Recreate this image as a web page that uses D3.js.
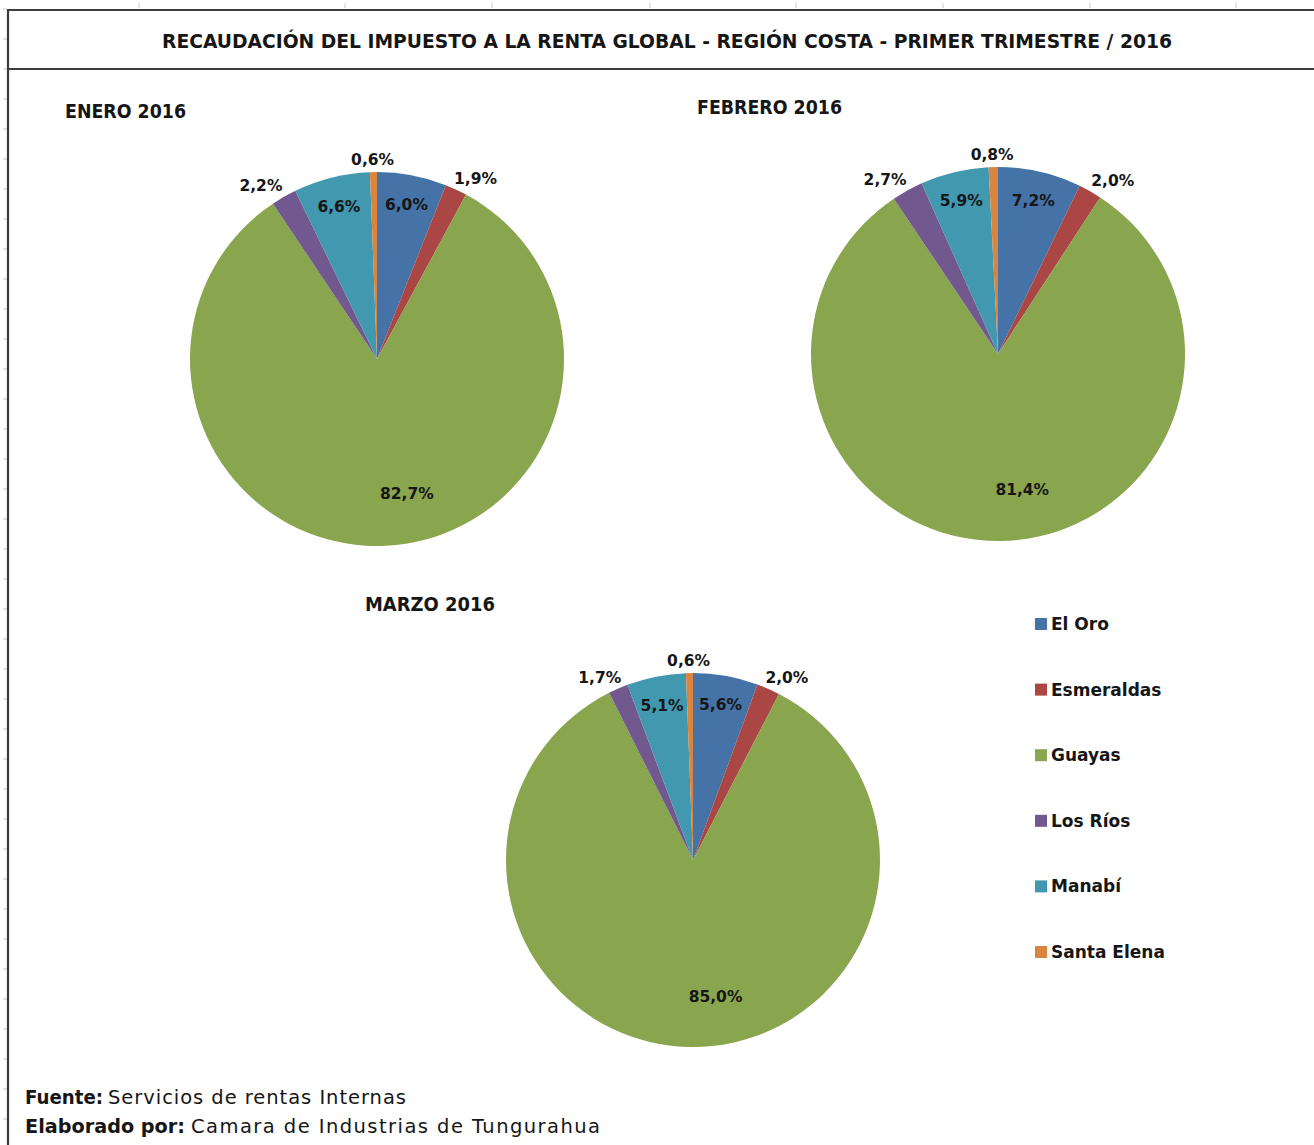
<!DOCTYPE html>
<html>
<head>
<meta charset="utf-8">
<script src="https://cdn.jsdelivr.net/npm/d3@7"></script>
<style>
  body { margin: 0; background: #fff; }
  text { font-family: 'DejaVu Sans', sans-serif; fill: #161616; }
</style>
</head>
<body>
<div id="chart"></div>
<script>
// data
const regions = ['El Oro', 'Esmeraldas', 'Guayas', 'Los Ríos', 'Manabí', 'Santa Elena'];
const enero = [6.0, 1.9, 82.7, 2.2, 6.6, 0.6];
const febrero = [7.2, 2.0, 81.4, 2.7, 5.9, 0.8];
const marzo = [5.6, 2.0, 85.0, 1.7, 5.1, 0.6];
const monthTitles = ['ENERO 2016', 'FEBRERO  2016', 'MARZO 2016'];
const colors = ['#4572A7', '#AA4643', '#89A54E', '#71588F', '#4198AF', '#DB843D'];

const title = 'RECAUDACIÓN DEL IMPUESTO A LA RENTA GLOBAL - REGIÓN COSTA -  PRIMER TRIMESTRE / 2016';

const width = 1314;
const height = 1145;
const radius = 187;

const pies = [
  { values: enero, cx: 377, cy: 359, title: monthTitles[0], tx: 65, ty: 118, tw: 121 },
  { values: febrero, cx: 998, cy: 354, title: monthTitles[1], tx: 697, ty: 114, tw: 145 },
  { values: marzo, cx: 693, cy: 860, title: monthTitles[2], tx: 365, ty: 611, tw: 130 }
];

const fmt = (v) => d3.format('.1f')(v).replace('.', ',') + '%';

const svg = d3.select('#chart').append('svg')
  .attr('width', width)
  .attr('height', height);

// spreadsheet frame
const frame = svg.append('g');
d3.range(9, height, 30).forEach((y) => {
  frame.append('line')
    .attr('x1', 3).attr('x2', 7)
    .attr('y1', y).attr('y2', y)
    .attr('stroke', '#c3c8dc').attr('stroke-width', 1);
});
[139, 345, 492, 650, 796, 943, 1090, 1236].forEach((x) => {
  frame.append('line')
    .attr('x1', x).attr('x2', x)
    .attr('y1', 3).attr('y2', 8)
    .attr('stroke', '#c3c8dc').attr('stroke-width', 1);
});
frame.append('line')
  .attr('x1', 8).attr('x2', width)
  .attr('y1', 10).attr('y2', 10)
  .attr('stroke', '#3c3c3c').attr('stroke-width', 2.2);
frame.append('line')
  .attr('x1', 8).attr('x2', width)
  .attr('y1', 69).attr('y2', 69)
  .attr('stroke', '#3c3c3c').attr('stroke-width', 2.2);
frame.append('line')
  .attr('x1', 8).attr('x2', 8)
  .attr('y1', 9).attr('y2', height)
  .attr('stroke', '#3c3c3c').attr('stroke-width', 2.2);

svg.append('text')
  .attr('x', 162)
  .attr('y', 48)
  .attr('font-size', 20)
  .attr('font-weight', 'bold')
  .attr('textLength', 1010)
  .attr('lengthAdjust', 'spacingAndGlyphs')
  .text(title);

const pie = d3.pie().sort(null).value((d) => d);
const arc = d3.arc().innerRadius(0).outerRadius(radius);

pies.forEach((p) => {
  svg.append('text')
    .attr('x', p.tx)
    .attr('y', p.ty)
    .attr('font-size', 19)
    .attr('font-weight', 'bold')
    .attr('textLength', p.tw)
    .attr('lengthAdjust', 'spacingAndGlyphs')
    .text(p.title);

  const g = svg.append('g').attr('transform', 'translate(' + p.cx + ',' + p.cy + ')');
  const arcs = pie(p.values);

  g.selectAll('path')
    .data(arcs)
    .join('path')
    .attr('d', arc)
    .attr('fill', (d, i) => colors[i]);

  g.selectAll('text')
    .data(arcs)
    .join('text')
    .attr('font-size', 15.5)
    .attr('font-weight', 'bold')
    .attr('text-anchor', 'middle')
    .attr('dominant-baseline', 'central')
    .attr('transform', (d) => {
      const a = (d.startAngle + d.endAngle) / 2;
      let x, y;
      if (d.data >= 50) {
        // Excel's best fit puts the big label a bit off the bisector
        const b = a - 0.17;
        x = Math.sin(b) * radius * 0.74;
        y = -Math.cos(b) * radius * 0.74;
      } else if (d.data >= 4) {
        x = Math.sin(a) * radius * 0.84;
        y = -Math.cos(a) * radius * 0.84;
      } else {
        const r = radius + 6;
        x = Math.sin(a) * (r + 40);
        y = -Math.cos(a) * (r + 6);
      }
      return 'translate(' + x + ',' + y + ')';
    })
    .text((d) => fmt(d.data));
});

// legend
const legend = svg.append('g').attr('transform', 'translate(1035, 624)');
const item = legend.selectAll('g')
  .data(regions)
  .join('g')
  .attr('transform', (d, i) => 'translate(0,' + i * 65.6 + ')');
item.append('rect')
  .attr('x', 0).attr('y', -6)
  .attr('width', 12).attr('height', 12)
  .attr('fill', (d, i) => colors[i]);
item.append('text')
  .attr('x', 16)
  .attr('y', 0)
  .attr('dominant-baseline', 'central')
  .attr('font-size', 17)
  .attr('font-weight', 'bold')
  .attr('fill', '#1a1a2a')
  .text((d) => d);

// footer
const foot = svg.append('g').attr('font-size', 19.5);
foot.append('text').attr('x', 25).attr('y', 1104)
  .attr('font-weight', 'bold')
  .attr('textLength', 78).attr('lengthAdjust', 'spacingAndGlyphs')
  .text('Fuente:');
foot.append('text').attr('x', 108).attr('y', 1104)
  .attr('textLength', 298).attr('lengthAdjust', 'spacing')
  .text('Servicios  de rentas Internas');
foot.append('text').attr('x', 25).attr('y', 1133)
  .attr('font-weight', 'bold')
  .attr('textLength', 160).attr('lengthAdjust', 'spacingAndGlyphs')
  .text('Elaborado por:');
foot.append('text').attr('x', 191).attr('y', 1133)
  .attr('textLength', 409).attr('lengthAdjust', 'spacing')
  .text('Camara  de Industrias de Tungurahua');
</script>
</body>
</html>
